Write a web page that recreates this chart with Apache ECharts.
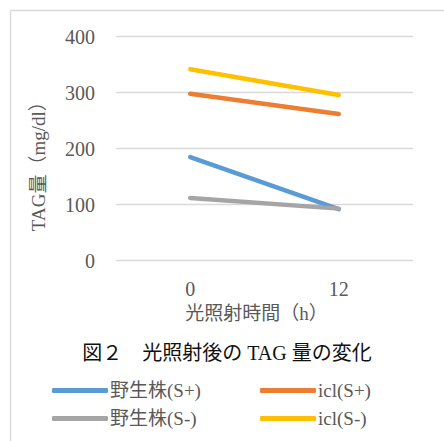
<!DOCTYPE html>
<html lang="ja">
<head>
<meta charset="UTF-8">
<title>光照射後のTAG量の変化</title>
<script src="https://cdn.jsdelivr.net/npm/echarts@6/dist/echarts.min.js"></script>
<style>
  html, body { margin: 0; padding: 0; background: #fff; }
  #chart { width: 444px; height: 441px; }
</style>
</head>
<body>
<div id="chart"></div>
<script>
  // 時間（h）
  var hours = ['0', '12'];
  var seriesNames = ['野生株(S+)', 'icl(S+)', '野生株(S-)', 'icl(S-)'];
  var wildSPlus = [185, 92];
  var iclSPlus = [298, 262];
  var wildSMinus = [112, 93];
  var iclSMinus = [342, 296];

  var colors = ['#5b9bd5', '#ed7d31', '#a5a5a5', '#ffc000'];
  var values = [wildSPlus, iclSPlus, wildSMinus, iclSMinus];
  var font = '"Liberation Serif", "Noto Sans CJK JP", serif';

  var series = [];
  for (var i = 0; i < seriesNames.length; i++) {
    series.push({
      name: seriesNames[i],
      type: 'line',
      data: values[i],
      showSymbol: false,
      color: colors[i],
      lineStyle: { width: 4.5, cap: 'round', color: colors[i] }
    });
  }

  // 凡例は2行2列
  var legendPos = [[52, 381], [260, 381], [52, 409], [260, 409]];
  var legends = [];
  for (var k = 0; k < seriesNames.length; k++) {
    legends.push({
      data: [seriesNames[k]],
      left: legendPos[k][0],
      top: legendPos[k][1],
      icon: 'roundRect',
      itemWidth: 56,
      itemHeight: 5,
      itemGap: 2,
      padding: 0,
      textStyle: { fontFamily: font, fontSize: 19, color: '#595959', padding: [0, 0, 0, -3] }
    });
  }

  var chart = echarts.init(document.getElementById('chart'), null, { renderer: 'svg' });
  chart.setOption({
    animation: false,
    backgroundColor: '#fff',
    title: {
      text: '図２　光照射後の TAG 量の変化',
      left: 222,
      textAlign: 'center',
      top: 338,
      textStyle: { fontFamily: font, fontSize: 20, fontWeight: 'normal', color: '#111' }
    },
    legend: legends,
    grid: { left: 116, right: 31, top: 36.7, bottom: 180.3 },
    xAxis: {
      type: 'category',
      data: hours,
      name: '光照射時間（h）',
      nameLocation: 'middle',
      nameGap: 43,
      nameTextStyle: { fontFamily: font, fontSize: 19, color: '#595959', padding: [0, 16, 0, 0] },
      axisLine: { show: false },
      axisTick: { show: false },
      axisLabel: { fontFamily: font, fontSize: 20, color: '#595959', margin: 18 }
    },
    yAxis: {
      type: 'value',
      min: 0,
      max: 400,
      interval: 100,
      name: 'TAG量（mg/dl）',
      nameLocation: 'middle',
      nameGap: 68,
      nameTextStyle: { fontFamily: font, fontSize: 19, color: '#595959', padding: [0, 26, 0, 0] },
      axisLine: { show: false },
      axisTick: { show: false },
      axisLabel: { fontFamily: font, fontSize: 20, color: '#595959', margin: 21 },
      splitLine: { lineStyle: { color: '#d9d9d9', width: 1.3 } }
    },
    graphic: [
      { type: 'line', shape: { x1: 10.5, y1: 10.5, x2: 444, y2: 10.5 }, style: { stroke: '#d9d9d9', lineWidth: 1.3 } },
      { type: 'line', shape: { x1: 10.5, y1: 10.5, x2: 10.5, y2: 441 }, style: { stroke: '#d9d9d9', lineWidth: 1.3 } }
    ],
    series: series
  });
</script>
</body>
</html>
